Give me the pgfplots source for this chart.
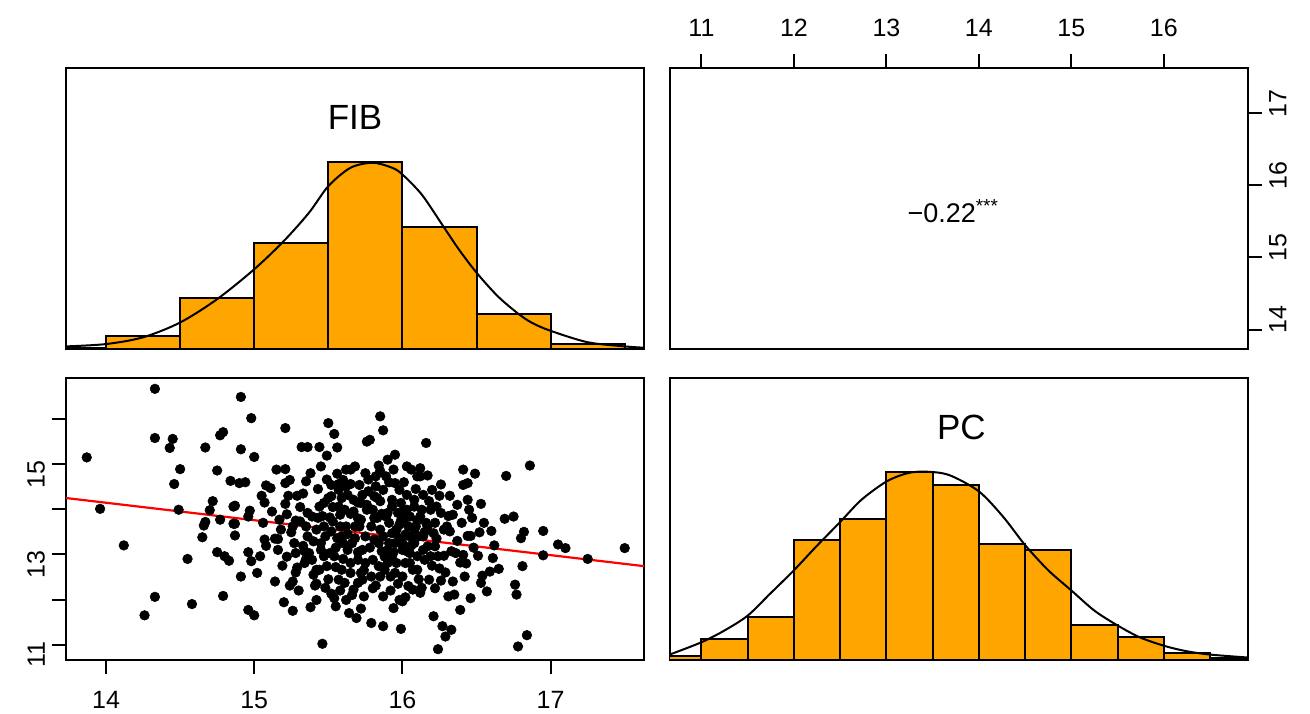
\documentclass[border=0pt]{standalone}
\usepackage{fontspec}
\setmainfont{Liberation Sans}
\usepackage{pgfplots}
\usepackage{pgfplotstable}
\pgfplotsset{compat=1.18}
\definecolor{rorange}{HTML}{FFA500}
\definecolor{rred}{HTML}{FF0000}

\pgfplotstableread{
x y
13.87 15.15
13.96 14.01
14.12 13.20
14.26 11.65
14.33 12.06
14.33 16.67
14.33 15.58
14.43 15.36
14.45 15.56
14.46 14.56
14.49 13.99
14.50 14.89
14.55 12.90
14.58 11.90
14.65 13.38
14.66 13.64
14.67 13.72
14.67 15.37
14.70 13.98
14.72 14.18
14.75 14.86
14.77 15.64
14.79 15.71
14.77 13.77
14.79 12.08
14.75 13.05
14.80 12.96
14.83 12.86
14.84 14.63
14.86 14.06
14.86 13.68
14.87 14.08
14.87 13.42
14.87 13.68
14.91 15.33
14.91 12.51
14.91 16.49
14.90 14.58
14.94 14.60
14.96 11.77
14.96 13.84
14.97 13.97
14.96 13.05
14.98 12.85
14.98 16.02
15.00 11.65
15.00 15.16
15.02 12.59
15.04 12.96
15.06 13.70
15.07 14.15
15.07 13.33
15.08 13.19
15.08 14.53
15.11 14.47
15.14 12.40
15.15 14.88
15.16 13.34
15.16 13.10
15.17 13.77
15.19 12.75
15.20 11.94
15.21 14.12
15.21 15.80
15.21 14.89
15.21 14.58
15.22 13.89
15.23 14.30
15.24 12.31
15.25 13.49
15.26 11.75
15.26 12.40
15.27 13.25
15.28 13.03
15.29 14.30
15.29 12.71
15.31 14.05
15.32 15.38
15.33 13.19
15.34 13.07
15.35 14.62
15.35 13.62
15.36 15.38
15.36 13.40
15.37 13.03
15.38 11.83
15.39 13.84
15.40 13.29
15.41 12.31
15.42 12.66
15.42 11.99
15.43 13.81
15.44 15.38
15.44 14.06
15.45 13.10
15.46 11.02
15.47 13.62
15.47 12.96
15.48 12.26
15.49 15.19
15.49 14.66
15.50 14.25
15.50 15.91
15.51 13.03
15.51 13.82
15.52 14.54
15.52 12.13
15.52 13.51
15.54 12.03
15.54 15.67
15.55 12.72
15.56 15.37
15.56 13.36
15.56 14.79
15.57 14.06
15.57 12.44
15.57 14.56
15.58 13.88
15.59 14.25
15.59 13.40
15.60 12.90
15.61 12.37
15.62 14.88
15.62 13.62
15.62 11.99
15.63 14.32
15.64 11.70
15.65 14.56
15.65 12.81
15.65 14.88
15.66 13.25
15.67 13.95
15.67 12.22
15.68 13.62
15.69 11.59
15.70 14.15
15.70 12.88
15.71 14.54
15.72 12.59
15.72 13.77
15.73 14.32
15.73 12.44
15.74 12.07
15.75 14.80
15.75 13.40
15.76 15.50
15.76 13.99
15.77 14.40
15.78 15.54
15.79 11.48
15.79 12.51
15.80 13.99
15.81 14.29
15.81 13.33
15.82 14.73
15.82 12.31
15.83 13.81
15.84 14.97
15.84 12.74
15.85 16.06
15.85 13.55
15.85 14.18
15.86 13.07
15.87 11.41
15.87 15.75
15.87 12.07
15.88 12.66
15.89 13.84
15.89 14.73
15.90 15.10
15.91 13.25
15.91 13.70
15.92 12.51
15.93 12.96
15.93 14.21
15.94 14.88
15.94 11.81
15.95 14.58
15.95 15.21
15.96 13.55
15.96 12.81
15.97 13.92
15.98 11.99
15.98 13.36
15.99 11.35
15.99 14.14
16.00 13.10
16.00 11.96
16.01 13.77
16.02 12.81
16.02 13.44
16.03 14.95
16.03 14.32
16.04 13.62
16.05 13.03
16.05 13.84
16.06 14.88
16.07 12.66
16.07 12.22
16.08 13.25
16.08 14.06
16.09 13.62
16.10 12.66
16.10 14.73
16.11 13.40
16.12 14.91
16.12 14.73
16.13 12.26
16.14 14.32
16.14 13.10
16.15 12.88
16.16 15.47
16.16 13.70
16.17 13.18
16.18 14.18
16.18 12.44
16.19 13.99
16.20 14.43
16.21 11.63
16.21 13.47
16.22 13.18
16.23 14.06
16.24 12.96
16.24 10.90
16.25 12.69
16.25 14.30
16.26 12.42
16.26 13.92
16.27 11.41
16.28 13.55
16.28 12.97
16.29 11.18
16.30 13.62
16.31 12.07
16.32 13.51
16.33 13.07
16.33 11.33
16.34 13.88
16.35 12.11
16.36 13.03
16.37 14.10
16.39 12.82
16.39 11.77
16.41 14.88
16.41 14.54
16.41 12.99
16.42 12.51
16.44 14.21
16.44 13.41
16.44 14.58
16.45 13.99
16.46 12.03
16.46 13.41
16.47 13.81
16.49 14.79
16.51 12.97
16.52 13.49
16.53 12.37
16.54 12.53
16.53 14.12
16.57 12.18
16.59 12.62
16.60 13.52
16.61 12.92
16.65 12.68
16.69 13.79
16.70 14.74
16.75 13.84
16.76 12.33
16.77 12.11
16.78 10.96
16.80 13.36
16.81 12.74
16.82 13.50
16.84 11.21
16.86 14.97
16.95 13.52
16.95 12.98
17.05 13.22
17.10 13.14
17.25 12.90
17.50 13.14
15.26 13.62
15.31 13.73
15.36 13.92
15.42 13.55
15.45 13.25
15.48 13.40
15.53 13.73
15.58 13.62
15.61 13.99
15.63 13.10
15.68 13.36
15.71 13.62
15.73 13.10
15.79 13.62
15.81 13.81
15.84 13.25
15.87 13.40
15.90 13.92
15.93 13.47
15.95 13.25
15.98 13.66
16.00 13.25
16.03 13.07
16.05 13.40
16.08 13.55
16.12 13.84
16.14 13.40
16.17 13.62
16.19 12.96
16.22 13.70
15.34 12.81
15.39 12.88
15.44 12.66
15.49 12.74
15.54 12.96
15.59 12.66
15.65 12.59
15.70 12.37
15.75 12.81
15.80 12.88
15.85 12.51
15.90 12.81
15.95 12.59
16.00 12.51
16.05 12.81
16.10 12.96
15.47 14.14
15.52 14.29
15.57 14.43
15.62 14.51
15.67 14.21
15.72 14.14
15.77 14.66
15.82 14.51
15.87 14.43
15.93 14.06
15.98 14.43
16.03 13.99
16.08 14.21
16.13 13.99
15.05 14.30
15.12 13.95
15.18 13.55
15.22 12.95
15.28 13.75
15.30 12.20
15.33 14.35
15.38 14.80
15.40 12.55
15.43 14.45
15.46 13.85
15.50 12.45
15.53 14.05
15.55 13.15
15.58 12.20
15.60 14.65
15.63 13.45
15.66 12.10
15.68 14.95
15.70 13.80
15.74 12.65
15.76 14.10
15.78 13.15
15.80 12.25
15.83 14.25
15.86 13.90
15.88 12.95
15.91 14.60
15.94 13.05
15.97 12.35
15.99 13.75
16.01 14.60
16.04 12.30
16.06 13.20
16.09 14.45
16.11 12.45
16.15 13.50
16.17 14.75
16.20 12.75
16.23 13.35
16.26 14.55
16.29 12.60
16.31 13.85
16.34 12.40
16.37 13.30
16.40 13.70
16.43 12.80
16.48 13.15
16.55 13.70
16.62 13.20
15.14 13.35
15.24 14.65
15.35 12.90
15.45 14.95
15.55 11.85
15.65 13.90
15.72 11.80
15.85 14.85
15.92 12.20
16.02 12.05
16.12 12.15
16.22 12.25
16.32 14.30
15.28 12.60
15.42 12.35
15.60 13.25
15.70 13.05
15.90 13.10
16.00 13.95
16.10 13.75
}\scatterdata

\begin{document}
\begin{tikzpicture}
\path[use as bounding box] (0pt,0pt) rectangle (655pt,356.5pt);
\pgfplotsset{
  panel/.style={
    scale only axis, width=289pt, height=140.5pt,
    axis line style={line width=1pt, black},
    tick style={line width=1pt, black},
    major tick length=7pt, tick align=outside,
    tick label style={font=\fontsize{12.5}{14}\selectfont},
    /pgf/number format/assume math mode=true,
    anchor=south west,
  },
  hist/.style={panel, xtick=\empty, ytick=\empty, ymin=0},
}

% Top-left: FIB histogram
\begin{axis}[hist, at={(33pt,182pt)}, xmin=13.73, xmax=17.63, ymax=1.082]
\addplot[ybar interval, fill=rorange, draw=black, line width=1pt] coordinates {
(13.5,0.005) (14.0,0.049) (14.5,0.198) (15.0,0.407) (15.5,0.719) (16.0,0.470) (16.5,0.136) (17.0,0.020) (17.5,0.020)};
\addplot[smooth, black, line width=1pt] coordinates {
(13.73,0.010) (14.0,0.019) (14.25,0.045) (14.5,0.102) (14.75,0.192) (15.0,0.307) (15.2,0.416) (15.37,0.525) (15.5,0.627) (15.65,0.698) (15.8,0.717) (15.93,0.698) (16.0,0.672) (16.13,0.595) (16.26,0.486) (16.38,0.384) (16.5,0.294) (16.64,0.205) (16.77,0.141) (16.87,0.102) (17.0,0.070) (17.25,0.026) (17.5,0.010) (17.63,0.005)};
\node[font=\fontsize{17.5}{20}\selectfont] at (rel axis cs:0.5,0.825) {FIB};
\end{axis}

% Top-right: correlation
\begin{axis}[panel, at={(335pt,182pt)}, xmin=10.66, xmax=16.91, ymin=13.73, ymax=17.63,
  xtick={11,12,13,14,15,16}, ytick={14,15,16,17},
  xtick pos=upper, xticklabel pos=upper, ytick pos=right, yticklabel pos=right,
  xticklabel style={yshift=5pt},
  yticklabel style={rotate=90, anchor=north, xshift=5pt}]
\node[font=\fontsize{13.5}{15}\selectfont] at (rel axis cs:0.49,0.49) {−0.22\textsuperscript{***}};
\end{axis}

% Bottom-left: scatter
\begin{axis}[panel, at={(33pt,26.5pt)}, height=141pt, xmin=13.73, xmax=17.63, ymin=10.66, ymax=16.91,
  xtick={14,15,16,17}, ytick={11,12,13,14,15,16}, yticklabels={11,,13,,15,},
  xtick pos=lower, ytick pos=left,
  xticklabel style={yshift=-5pt},
  yticklabel style={rotate=90, anchor=south, xshift=-5pt}]
\addplot[only marks, mark=*, mark size=2.4pt, mark options={fill=black, draw=black, line width=0.3pt}] table[x=x, y=y] {\scatterdata};
\addplot[rred, line width=1.1pt] coordinates {(13.73,14.25) (17.63,12.74)};
\end{axis}

% Bottom-right: PC histogram
\begin{axis}[hist, at={(335pt,26.5pt)}, height=141pt, xmin=10.66, xmax=16.91, ymax=0.572]
\addplot[ybar interval, fill=rorange, draw=black, line width=1pt] coordinates {
(10.5,0.009) (11.0,0.042) (11.5,0.088) (12.0,0.244) (12.5,0.287) (13.0,0.381) (13.5,0.355) (14.0,0.235) (14.5,0.224) (15.0,0.072) (15.5,0.046) (16.0,0.014) (16.5,0.004) (17.0,0.004)};
\addplot[smooth, black, line width=1pt] coordinates {
(10.67,0.012) (11.0,0.036) (11.25,0.060) (11.5,0.090) (11.74,0.134) (12.0,0.182) (12.24,0.230) (12.5,0.280) (12.73,0.325) (13.0,0.362) (13.23,0.379) (13.43,0.382) (13.68,0.375) (14.0,0.342) (14.26,0.291) (14.5,0.233) (14.75,0.182) (15.0,0.141) (15.25,0.100) (15.5,0.070) (15.74,0.046) (16.0,0.029) (16.24,0.018) (16.5,0.011) (16.91,0.005)};
\node[font=\fontsize{17.5}{20}\selectfont] at (rel axis cs:0.504,0.826) {PC};
\end{axis}
\end{tikzpicture}
\end{document}
